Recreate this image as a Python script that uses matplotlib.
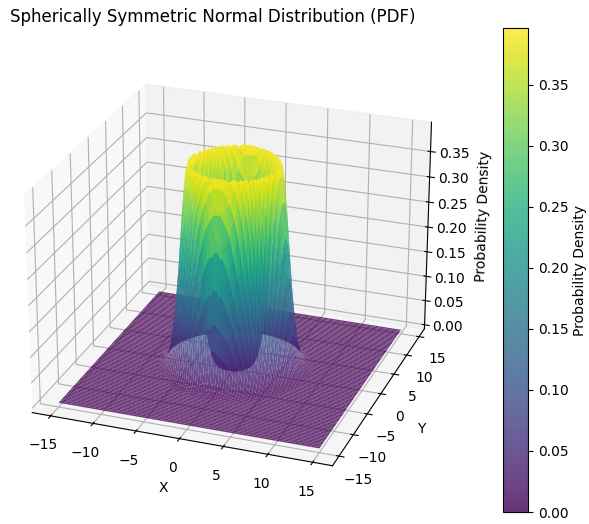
import numpy as np
import matplotlib
matplotlib.use('Agg')
import matplotlib.pyplot as plt

W, H = 589, 524

# density read off the wall of the surface, by distance from the crest of the
# ring at radius 5, one value per 0.05 (flat zero past the end of the table)
ring_radius = 5.0
wall_step = 0.05
wall_density = [
    0.3989, 0.3984, 0.3970, 0.3945, 0.3910, 0.3867, 0.3814, 0.3752, 0.3683, 0.3605,
    0.3521, 0.3429, 0.3332, 0.3230, 0.3123, 0.3011, 0.2897, 0.2780, 0.2661, 0.2541,
    0.2420, 0.2299, 0.2179, 0.2059, 0.1942, 0.1826, 0.1714, 0.1604, 0.1497, 0.1394,
    0.1295, 0.1200, 0.1109, 0.1023, 0.0940, 0.0863, 0.0790, 0.0721, 0.0656, 0.0596,
    0.0540, 0.0488, 0.0440, 0.0396, 0.0355, 0.0317, 0.0283, 0.0252, 0.0224, 0.0198,
    0.0175, 0.0154, 0.0136, 0.0119, 0.0104, 0.0091, 0.0079, 0.0069, 0.0060, 0.0051,
    0.0044, 0.0038, 0.0033, 0.0028, 0.0024, 0.0020, 0.0017, 0.0015, 0.0012, 0.0010,
    0.0009,
]
z_ticks = [0.00, 0.05, 0.10, 0.15, 0.20, 0.25, 0.30, 0.35]
cbar_ticks = [0.00, 0.05, 0.10, 0.15, 0.20, 0.25, 0.30, 0.35]
xy_ticks = [-15, -10, -5, 0, 5, 10, 15]

# grid
x = np.linspace(-15, 15, 100)
y = np.linspace(-15, 15, 100)
X, Y = np.meshgrid(x, y)
R = np.sqrt(X**2 + Y**2)

# table lookup on the distance from the ring
table = np.array(wall_density)
idx = np.round(np.abs(R - ring_radius) / wall_step).astype(int)
Z = np.where(idx < len(table), table[np.minimum(idx, len(table) - 1)], 0.0)

fig = plt.figure(figsize=(W / 100, H / 100), dpi=100)
ax = fig.add_axes([-14 / W, 1 - 514 / H, 484 / W, 484 / H], projection='3d')

surf = ax.plot_surface(X, Y, Z, cmap='viridis', alpha=0.8, rstride=1, cstride=1,
                       vmin=0, vmax=0.3965)
ax.view_init(elev=25, azim=-70)

ax.set_xticks(xy_ticks)
ax.set_yticks(xy_ticks)
ax.set_zticks(z_ticks)
ax.set_xlabel('X')
ax.set_ylabel('Y')
ax.set_zlabel('Probability Density', labelpad=6)
ax.set_title('Spherically Symmetric Normal Distribution (PDF)')
ax.title.set_position((0.469, 1.008))

cax = fig.add_axes([503 / W, 1 - 512 / H, 25 / W, 484 / H])
cbar = fig.colorbar(surf, cax=cax)
cbar.set_ticks(cbar_ticks)
cbar.set_label('Probability Density', labelpad=3.5)

fig.savefig('out.png', dpi=100)
